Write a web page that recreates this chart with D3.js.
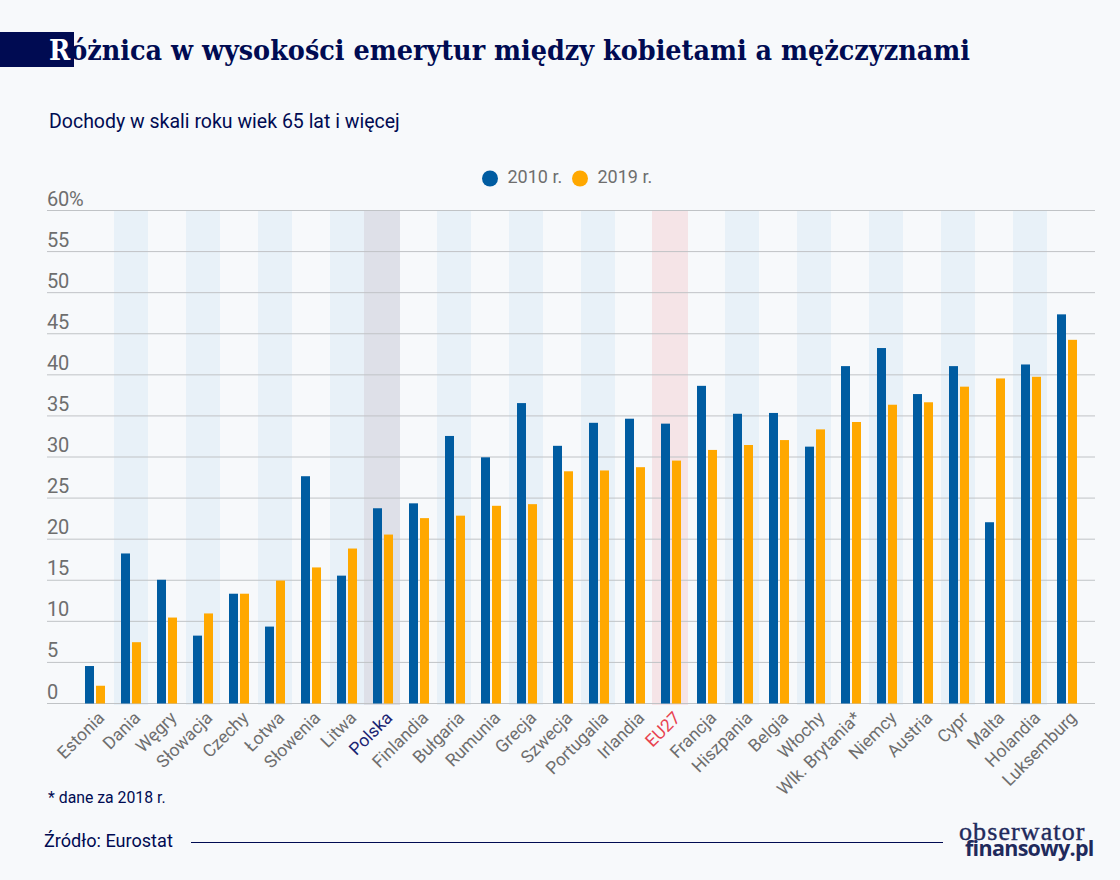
<!DOCTYPE html>
<html lang="pl">
<head>
<meta charset="utf-8">
<script src="https://cdn.jsdelivr.net/npm/d3@7"></script>
<style>
  html, body { margin: 0; padding: 0; background: #f7f9fb; }
  svg { display: block; }
  text { font-family: Roboto, sans-serif; }
</style>
</head>
<body>
<svg id="chart" width="1120" height="880"></svg>
<script>
const countries = ['Estonia', 'Dania', 'Węgry', 'Słowacja', 'Czechy', 'Łotwa', 'Słowenia', 'Litwa', 'Polska', 'Finlandia', 'Bułgaria', 'Rumunia', 'Grecja', 'Szwecja', 'Portugalia', 'Irlandia', 'EU27', 'Francja', 'Hiszpania', 'Belgia', 'Włochy', 'Wlk. Brytania*', 'Niemcy', 'Austria', 'Cypr', 'Malta', 'Holandia', 'Luksemburg'];
const values2010 = [4.5, 18.2, 15, 8.2, 13.3, 9.3, 27.6, 15.5, 23.7, 24.3, 32.5, 29.9, 36.5, 31.3, 34.1, 34.6, 34, 38.6, 35.2, 35.3, 31.2, 41, 43.2, 37.6, 41, 22, 41.2, 47.3];
const values2019 = [2.1, 7.4, 10.4, 10.9, 13.3, 14.9, 16.5, 18.8, 20.5, 22.5, 22.8, 24, 24.2, 28.2, 28.3, 28.7, 29.5, 30.8, 31.4, 32, 33.3, 34.2, 36.3, 36.6, 38.5, 39.5, 39.7, 44.2];
const yTicks = [0, 5, 10, 15, 20, 25, 30, 35, 40, 45, 50, 55, 60];
const seriesNames = ['2010 r.', '2019 r.'];
const stripedCountries = ['Dania', 'Słowacja', 'Łotwa', 'Litwa', 'Bułgaria', 'Grecja', 'Portugalia', 'Hiszpania', 'Włochy', 'Niemcy', 'Cypr', 'Holandia'];

const navy = '#000b52';
const gray = '#6e6e6e';
const colors = ['#005ca1', '#ffa800'];

const svg = d3.select('#chart');

const x = d3.scaleBand().domain(countries).range([77.5, 1085.5]);
const xStripe = d3.scaleBand().domain(countries).range([77, 1083.5]);
const y = d3.scaleLinear().domain([0, 60]).range([703, 210]);
const xSeries = d3.scaleBand().domain([0, 1]).range([7.5, 27.5]).paddingInner(2 / 11);

// Header
svg.append('rect').attr('x', 0).attr('y', 32).attr('width', 74).attr('height', 35).attr('fill', navy);
const title = svg.append('text')
  .attr('x', 49).attr('y', 59.5)
  .attr('fill', navy)
  .style('font-family', '"DejaVu Serif", serif')
  .style('font-stretch', 'condensed')
  .style('font-weight', 700)
  .style('font-size', '28.4px');
title.append('tspan').attr('fill', '#fff').text('R');
title.append('tspan').text('óżnica w wysokości emerytur między kobietami a mężczyznami');

svg.append('text')
  .attr('x', 49).attr('y', 128)
  .attr('fill', navy)
  .style('font-size', '19.5px')
  .text('Dochody w skali roku wiek 65 lat i więcej');

// Legend
const legendX = [490, 580];
seriesNames.forEach((name, i) => {
  svg.append('circle').attr('cx', legendX[i]).attr('cy', 178.5).attr('r', 8).attr('fill', colors[i]);
  svg.append('text')
    .attr('x', legendX[i] + 17.5).attr('y', 183)
    .attr('fill', gray)
    .style('font-size', '18px')
    .text(name);
});

// Background stripes
const stripes = svg.append('g');
const isHighlight = d => d === 'Polska' || d === 'EU27';
const stripeColor = d => d === 'Polska' ? '#dee0e8' : d === 'EU27' ? '#f5e4e7' : '#e8f1f8';
const stripeWidth = d => isHighlight(d) ? 36 : 34;
stripes.selectAll('rect')
  .data(stripedCountries.concat(['Polska', 'EU27']))
  .join('rect')
  .attr('x', d => Math.round(xStripe(d) + xStripe.bandwidth() / 2 - (isHighlight(d) ? 0.5 : 0) - stripeWidth(d) / 2))
  .attr('y', y(60))
  .attr('width', stripeWidth)
  .attr('height', y(0) - y(60) + 2)
  .attr('fill', stripeColor);

// Y axis, labels sit on top of the gridlines
const yAxis = svg.append('g')
  .attr('transform', 'translate(47,0)')
  .call(d3.axisRight(y).tickValues(yTicks).tickSize(1048)
    .tickFormat(d => d === 60 ? '60%' : d));
yAxis.select('.domain').remove();
yAxis.selectAll('.tick line').attr('stroke', '#c0c3c6').attr('stroke-width', 1);
yAxis.selectAll('.tick text')
  .attr('x', 0).attr('y', -5).attr('dy', 0)
  .attr('text-anchor', 'start')
  .attr('fill', gray)
  .style('font-size', '20px')
  .style('letter-spacing', '-0.2px');

// Bars
const groups = svg.append('g').selectAll('g')
  .data(countries)
  .join('g')
  .attr('transform', d => `translate(${x(d)},0)`);
[values2010, values2019].forEach((values, s) => {
  groups.append('rect')
    .attr('x', xSeries(s))
    .attr('y', (d, i) => y(values[i]))
    .attr('width', xSeries.bandwidth())
    .attr('height', (d, i) => y(0) + 0.5 - y(values[i]))
    .attr('fill', colors[s]);
});

// X axis
const xAxis = svg.append('g')
  .attr('transform', `translate(0,${y(0)})`)
  .call(d3.axisBottom(x).tickSize(0));
xAxis.select('.domain').remove();
xAxis.selectAll('.tick text')
  .attr('text-anchor', 'end')
  .attr('y', 0).attr('dy', 0)
  .attr('transform', 'translate(10,16) rotate(-45)')
  .attr('fill', d => d === 'Polska' ? '#1a2472' : d === 'EU27' ? '#e8424f' : gray)
  .style('font-size', '17.5px');

// Footer
svg.append('text')
  .attr('x', 48).attr('y', 803)
  .attr('fill', navy)
  .style('font-size', '15.8px')
  .text('* dane za 2018 r.');
svg.append('text')
  .attr('x', 44).attr('y', 847)
  .attr('fill', navy)
  .style('font-size', '18.1px')
  .text('Źródło: Eurostat');
svg.append('line')
  .attr('x1', 191).attr('x2', 943).attr('y1', 842.5).attr('y2', 842.5)
  .attr('stroke', navy);

// Logo
svg.append('text')
  .attr('x', 959).attr('y', 840)
  .attr('fill', '#1f2a5c')
  .attr('stroke', '#1f2a5c')
  .attr('stroke-width', 0.4)
  .style('font-family', '"Liberation Serif", serif')
  .style('font-size', '26px')
  .style('letter-spacing', '1.1px')
  .text('obserwator');
svg.append('text')
  .attr('x', 965).attr('y', 856)
  .attr('fill', '#1f2a5c')
  .style('font-family', '"Open Sans", sans-serif')
  .style('font-weight', 700)
  .style('font-size', '21.5px')
  .style('letter-spacing', '-0.7px')
  .text('finansowy.pl');
</script>
</body>
</html>
